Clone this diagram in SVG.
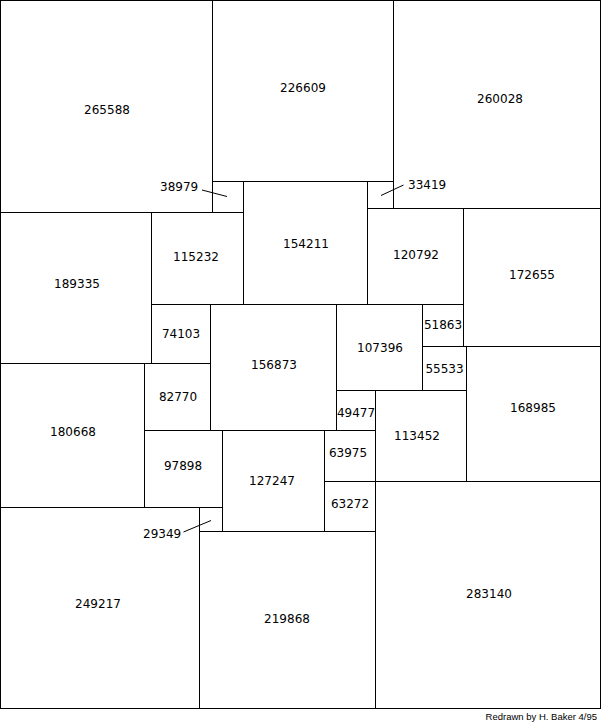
<svg xmlns="http://www.w3.org/2000/svg" width="602" height="725" viewBox="0 0 602 725">
<style>
rect{fill:none;stroke:#000;stroke-width:1;shape-rendering:crispEdges}
text{font-family:"DejaVu Sans",sans-serif;font-size:12px;fill:#000;text-anchor:middle}
.s{text-anchor:start}
.lead{stroke:#000;stroke-width:1;fill:none}
.credit{font-family:"Liberation Sans",Arial,sans-serif;font-size:9.5px;text-anchor:end}
</style>
<rect x="0" y="0" width="602" height="725" style="fill:#fff;stroke:none"/>
<g id="n265588"><rect x="0.5" y="0.5" width="212" height="212"/><text x="107" y="114">265588</text></g>
<g id="n226609"><rect x="212.5" y="0.5" width="181" height="181"/><text x="303" y="92">226609</text></g>
<g id="n260028"><rect x="393.5" y="0.5" width="207" height="208"/><text x="500" y="103">260028</text></g>
<g id="n38979"><rect x="212.5" y="181.5" width="31" height="31"/><text class="s" x="160" y="191">38979</text></g>
<g id="n154211"><rect x="243.5" y="181.5" width="124" height="123"/><text x="306" y="247.5">154211</text></g>
<g id="n33419"><rect x="367.5" y="181.5" width="26" height="27"/><text class="s" x="408" y="188.5">33419</text></g>
<g id="n120792"><rect x="367.5" y="208.5" width="96" height="96"/><text x="416" y="259">120792</text></g>
<g id="n172655"><rect x="463.5" y="208.5" width="137" height="138"/><text x="532" y="279">172655</text></g>
<g id="n189335"><rect x="0.5" y="212.5" width="151" height="151"/><text x="77" y="288">189335</text></g>
<g id="n115232"><rect x="151.5" y="212.5" width="92" height="92"/><text x="196" y="261">115232</text></g>
<g id="n74103"><rect x="151.5" y="304.5" width="59" height="59"/><text x="181" y="338">74103</text></g>
<g id="n156873"><rect x="210.5" y="304.5" width="126" height="126"/><text x="274" y="369">156873</text></g>
<g id="n107396"><rect x="336.5" y="304.5" width="86" height="86"/><text x="380" y="352">107396</text></g>
<g id="n51863"><rect x="422.5" y="304.5" width="41" height="42"/><text x="443" y="328.5">51863</text></g>
<g id="n55533"><rect x="422.5" y="346.5" width="44" height="44"/><text x="444.5" y="373">55533</text></g>
<g id="n168985"><rect x="466.5" y="346.5" width="134" height="135"/><text x="533" y="412">168985</text></g>
<g id="n180668"><rect x="0.5" y="363.5" width="144" height="144"/><text x="73" y="436">180668</text></g>
<g id="n82770"><rect x="144.5" y="363.5" width="66" height="67"/><text x="178" y="401">82770</text></g>
<g id="n49477"><rect x="336.5" y="390.5" width="39" height="40"/><text x="356" y="417">49477</text></g>
<g id="n113452"><rect x="375.5" y="390.5" width="91" height="91"/><text x="417" y="440">113452</text></g>
<g id="n97898"><rect x="144.5" y="430.5" width="78" height="77"/><text x="183" y="470">97898</text></g>
<g id="n127247"><rect x="222.5" y="430.5" width="102" height="101"/><text x="272" y="485">127247</text></g>
<g id="n63975"><rect x="324.5" y="430.5" width="51" height="51"/><text x="348" y="457">63975</text></g>
<g id="n63272"><rect x="324.5" y="481.5" width="51" height="50"/><text x="350" y="508">63272</text></g>
<g id="n283140"><rect x="375.5" y="481.5" width="225" height="227"/><text x="489" y="598">283140</text></g>
<g id="n249217"><rect x="0.5" y="507.5" width="199" height="201"/><text x="98" y="608">249217</text></g>
<g id="n29349"><rect x="199.5" y="507.5" width="23" height="24"/><text class="s" x="143" y="537.5">29349</text></g>
<g id="n219868"><rect x="199.5" y="531.5" width="176" height="177"/><text x="287" y="623">219868</text></g>
<g id="connectors">
<line class="lead" x1="202" y1="190" x2="227" y2="196.5"/>
<line class="lead" x1="403.5" y1="185" x2="381" y2="195.5"/>
<line class="lead" x1="183.5" y1="532" x2="211" y2="520.5"/>
</g>
<text class="credit" x="597" y="720">Redrawn by H. Baker 4/95</text>
</svg>
